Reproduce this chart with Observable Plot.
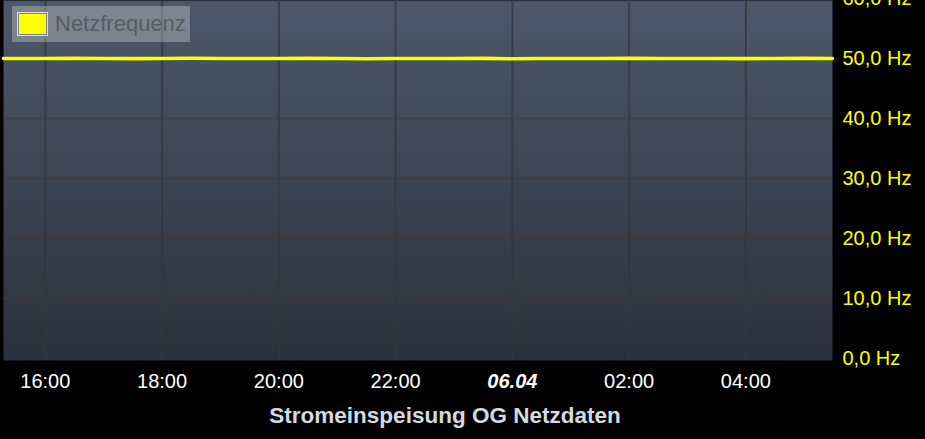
<!DOCTYPE html>
<html>
<head>
<meta charset="utf-8">
<script src="https://cdn.jsdelivr.net/npm/d3@7"></script>
<script src="https://cdn.jsdelivr.net/npm/@observablehq/plot@0.6"></script>
<style>
  html, body { margin: 0; padding: 0; background: #000; }
  #wrap { position: relative; width: 925px; height: 439px; overflow: hidden; background: #000; font-family: "Liberation Sans", Arial, sans-serif; }
  #chart { position: absolute; left: 0; top: 0; }
  #legend { position: absolute; left: 12px; top: 6px; width: 178px; height: 36px; background: rgba(255,255,255,0.28); }
  #legend .sw { position: absolute; left: 5px; top: 6px; width: 27px; height: 20px; border: 1px solid #dcdcdc; padding: 1px; background-clip: content-box; background-color: #ffff00; }
  #legend .lt { position: absolute; left: 43px; top: 6px; font-size: 22px; line-height: 24px; color: #575c63; white-space: nowrap; }
  #title { position: absolute; left: 0; top: 405px; width: 890px; text-align: center; font-weight: bold; font-size: 22.5px; line-height: 22px; color: #d4dae2; }
</style>
</head>
<body>
<div id="wrap">
  <div id="chart"></div>
  <div id="legend"><div class="sw"></div><div class="lt">Netzfrequenz</div></div>
  <div id="title">Stromeinspeisung OG Netzdaten</div>
</div>
<script>
// ---- data ----
const seriesName = "Netzfrequenz";
const times = [
  "2024-04-05T15:17", "2024-04-05T15:30", "2024-04-05T16:00", "2024-04-05T16:30",
  "2024-04-05T17:00", "2024-04-05T17:30", "2024-04-05T18:00", "2024-04-05T18:30",
  "2024-04-05T19:00", "2024-04-05T19:30", "2024-04-05T20:00", "2024-04-05T20:30",
  "2024-04-05T21:00", "2024-04-05T21:30", "2024-04-05T22:00", "2024-04-05T22:30",
  "2024-04-05T23:00", "2024-04-05T23:30", "2024-04-06T00:00", "2024-04-06T00:30",
  "2024-04-06T01:00", "2024-04-06T01:30", "2024-04-06T02:00", "2024-04-06T02:30",
  "2024-04-06T03:00", "2024-04-06T03:30", "2024-04-06T04:00", "2024-04-06T04:30",
  "2024-04-06T05:00", "2024-04-06T05:29"
];
const values = [
  50.01, 50.00, 49.99, 50.02, 50.01, 49.98, 50.00, 50.03, 50.01, 49.99,
  50.00, 50.02, 50.01, 49.97, 50.00, 50.01, 49.99, 50.02, 49.96, 49.99,
  50.01, 50.00, 50.02, 49.99, 50.01, 50.00, 49.98, 50.01, 50.02, 50.00
];
const xTicks = ["2024-04-05T16:00", "2024-04-05T18:00", "2024-04-05T20:00", "2024-04-05T22:00", "2024-04-06T00:00", "2024-04-06T02:00", "2024-04-06T04:00"];
const xTickLabels = ["16:00", "18:00", "20:00", "22:00", "06.04", "02:00", "04:00"];
const boldTick = "2024-04-06T00:00";
const yTicks = [0, 10, 20, 30, 40, 50, 60];
const yTickLabels = ["0,0 Hz", "10,0 Hz", "20,0 Hz", "30,0 Hz", "40,0 Hz", "50,0 Hz", "60,0 Hz"];
const xDomain = ["2024-04-05T15:17", "2024-04-06T05:29"];
const yDomain = [0, 60];

// ---- build ----
const parse = s => new Date(s + ":00Z");
const data = times.map((t, i) => ({time: parse(t), value: values[i]}));
const tickDates = xTicks.map(parse);
const labelOf = new Map(tickDates.map((d, i) => [+d, xTickLabels[i]]));
const boldDate = parse(boldTick);
const normalDates = tickDates.filter(d => +d !== +boldDate);
const yLabelOf = new Map(yTicks.map((v, i) => [v, yTickLabels[i]]));

const chart = Plot.plot({
  width: 925,
  height: 395,
  marginLeft: 3,
  marginRight: 93,
  marginTop: 0,
  marginBottom: 35,
  style: {background: "transparent", fontFamily: "'Liberation Sans', Arial, sans-serif"},
  x: {type: "utc", domain: xDomain.map(parse), range: [3, 832]},
  y: {domain: yDomain, range: [358, -2]},
  marks: [
    Plot.frame({fill: "url(#bggrad)", stroke: null}),
    Plot.ruleY(yTicks.filter(v => v > 0 && v < 60), {stroke: "#43393a", strokeOpacity: 0.75, strokeWidth: 1.5}),
    Plot.ruleX(tickDates, {stroke: "#35353b", strokeOpacity: 0.75, strokeWidth: 2}),
    Plot.line(data, {x: "time", y: "value", stroke: "#ffff00", strokeWidth: 3.6, curve: "linear"}),
    Plot.axisX(normalDates, {tickSize: 0, tickPadding: 13, fontSize: 20, fill: "#ffffff", tickFormat: d => labelOf.get(+d), label: null}),
    Plot.axisX([boldDate], {tickSize: 0, tickPadding: 13, fontSize: 20, fill: "#ffffff", fontWeight: "bold", fontStyle: "italic", tickFormat: d => labelOf.get(+d), label: null}),
    Plot.axisY(yTicks, {anchor: "right", tickSize: 0, tickPadding: 10, fontSize: 20, fill: "#ffff00", tickFormat: v => yLabelOf.get(v), label: null})
  ]
});

const svg = d3.select(chart.tagName.toLowerCase() === "svg" ? chart : chart.querySelector("svg"));
const defs = svg.insert("defs", ":first-child");
const g = defs.append("linearGradient").attr("id", "bggrad").attr("x1", 0).attr("y1", 0).attr("x2", 0).attr("y2", 1);
g.append("stop").attr("offset", "0%").attr("stop-color", "#4c5869");
g.append("stop").attr("offset", "100%").attr("stop-color", "#2a313c");

document.getElementById("chart").appendChild(chart);
</script>
</body>
</html>
